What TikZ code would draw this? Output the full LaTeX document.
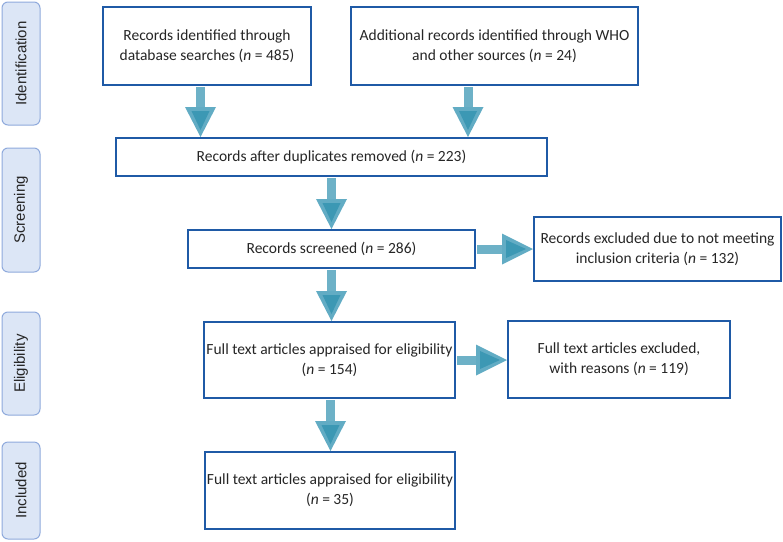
\documentclass[tikz,border=0pt]{standalone}
\usepackage{fontspec}
\setmainfont{Carlito}
\newfontfamily\stagefont{Liberation Sans}
\usetikzlibrary{calc}
\definecolor{boxblue}{HTML}{1F5AA6}
\definecolor{stagefill}{HTML}{DCE6F6}
\definecolor{stageline}{HTML}{8FAADC}
\definecolor{shaftc}{HTML}{6DB1C7}
\definecolor{headout}{HTML}{62ACC4}
\definecolor{headin}{HTML}{3C98B4}
\definecolor{txt}{HTML}{262626}
\tikzset{
  box/.style={draw=boxblue, line width=2pt, fill=white, align=center, text=txt, font=\fontsize{15.5}{20}\selectfont, inner sep=1pt},
  stage/.style={draw=stageline, line width=1pt, fill=stagefill, rounded corners=6pt, minimum width=38pt},
  stagetext/.style={rotate=90, text=txt, font=\stagefont\fontsize{15}{18}\selectfont},
}
\newcommand\vflow[2]{%
  \fill[shaftc] ($(#1)+(-4.5,0)$) rectangle ($(#2)+(4.5,-28)$);
  \fill[headout] ($(#2)+(-15.5,-30)$) -- ($(#2)+(15.5,-30)$) -- (#2) -- cycle;
  \fill[headin] ($(#2)+(-9,-26)$) -- ($(#2)+(9,-26)$) -- ($(#2)+(0,-7)$) -- cycle;
}
\newcommand\hflow[2]{%
  \fill[shaftc] ($(#1)+(0,-4.5)$) rectangle ($(#2)+(-28,4.5)$);
  \fill[headout] ($(#2)+(-31,-15.5)$) -- ($(#2)+(-31,15.5)$) -- (#2) -- cycle;
  \fill[headin] ($(#2)+(-27,-9)$) -- ($(#2)+(-27,9)$) -- ($(#2)+(-7,0)$) -- cycle;
}
\begin{document}
\begin{tikzpicture}[x=1pt,y=-1pt]
\useasboundingbox (0,0) rectangle (783,541);
% stage labels
\node[stage, minimum height=123pt] (sid) at (21,63.5) {};
\node[stagetext] (tid) at (sid.center) {Identification};
\node[stage, minimum height=124pt] (ssc) at (21,210) {};
\node[stagetext] (tsc) at (ssc.center) {Screening};
\node[stage, minimum height=103pt] (sel) at (21,363.5) {};
\node[stagetext] (tel) at (sel.center) {Eligibility};
\node[stage, minimum height=97pt] (sin) at (21,490.5) {};
\node[stagetext] (tin) at (sin.center) {Included};
% boxes
\node[box, minimum width=208pt, minimum height=78pt] (b1) at (207,46) {Records identified through\\database searches (\textit{n} = 485)};
\node[box, minimum width=287pt, minimum height=78pt] (b2) at (494.5,46) {Additional records identified through WHO\\and other sources (\textit{n} = 24)};
\node[box, minimum width=431pt, minimum height=38pt] (b3) at (331.5,157) {Records after duplicates removed (\textit{n} = 223)};
\node[box, minimum width=287pt, minimum height=38pt] (b4) at (331.5,249) {Records screened (\textit{n} = 286)};
\node[box, minimum width=247pt, minimum height=64pt] (b5) at (657.5,249) {Records excluded due to not meeting\\inclusion criteria (\textit{n} = 132)};
\node[box, minimum width=251pt, minimum height=76pt] (b6) at (329.5,360) {Full text articles appraised for eligibility\\(\textit{n} = 154)};
\node[box, minimum width=222pt, minimum height=77pt] (b7) at (619,359.5) {Full text articles excluded,\\with reasons (\textit{n} = 119)};
\node[box, minimum width=250pt, minimum height=77pt] (b8) at (330,490.5) {Full text articles appraised for eligibility\\(\textit{n} = 35)};
% connector end points
\coordinate (a1s) at ($(b1.south)+(-6.5,1)$);
\coordinate (a1t) at (a1s |- b3.north);
\coordinate (a2s) at ($(b2.south)+(-26.5,1)$);
\coordinate (a2t) at (a2s |- b3.north);
\coordinate (a3s) at ($(b3.south)+(0,1)$);
\coordinate (a3t) at (a3s |- b4.north);
\coordinate (a4s) at ($(b4.south)+(0,1)$);
\coordinate (a4t) at (a4s |- b6.north);
\coordinate (a5s) at ($(b6.south)+(1,1)$);
\coordinate (a5t) at (a5s |- b8.north);
\coordinate (h1s) at ($(b4.east)+(1,0)$);
\coordinate (h1t) at (h1s -| b5.west);
\coordinate (h2s) at ($(b6.east)+(1,0)$);
\coordinate (h2t) at (h2s -| b7.west);
% arrows
\vflow{a1s}{a1t}
\vflow{a2s}{a2t}
\vflow{a3s}{a3t}
\vflow{a4s}{a4t}
\vflow{a5s}{a5t}
\hflow{h1s}{h1t}
\hflow{h2s}{h2t}
\end{tikzpicture}
\end{document}
